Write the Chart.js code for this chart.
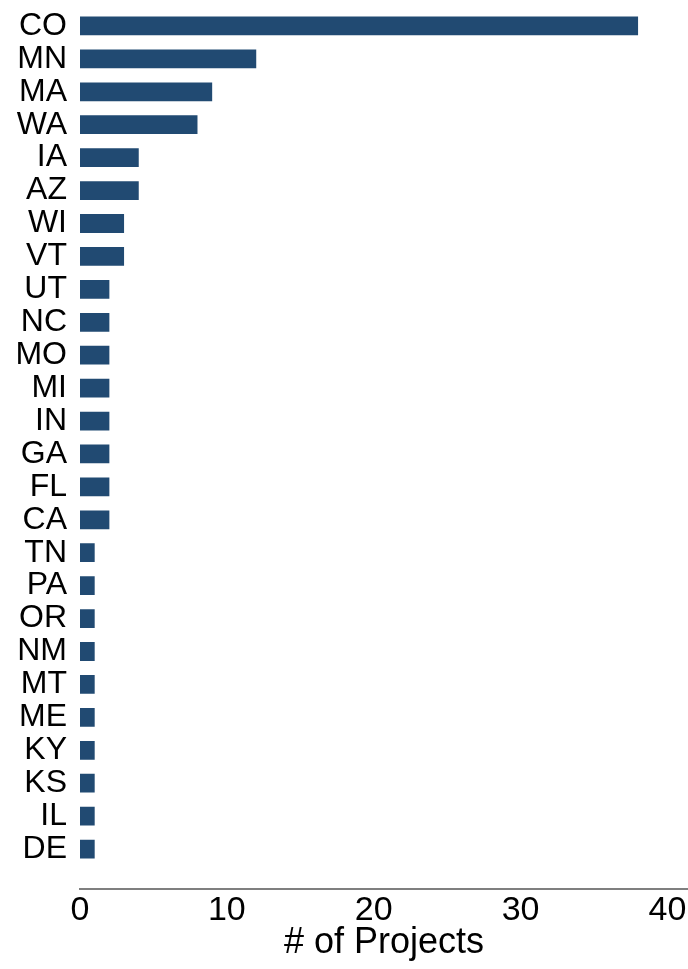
<!DOCTYPE html>
<html lang="en">
<head>
    <meta charset="UTF-8">
    <title># of Projects by State</title>
    <script src="https://cdn.jsdelivr.net/npm/chart.js@4.4.1/dist/chart.umd.min.js"></script>
    <style>
        body {
            margin: 0;
            background: #ffffff;
        }
        .chart-box {
            width: 688px;
            height: 969px;
            position: relative;
        }
    </style>
</head>
<body>
    <div class="chart-box">
        <canvas id="projectsChart"></canvas>
    </div>

    <script>
        // states, top to bottom
        const states = ['CO', 'MN', 'MA', 'WA', 'IA', 'AZ', 'WI', 'VT', 'UT', 'NC', 'MO', 'MI', 'IN',
                        'GA', 'FL', 'CA', 'TN', 'PA', 'OR', 'NM', 'MT', 'ME', 'KY', 'KS', 'IL', 'DE'];
        const projectCounts = [38, 12, 9, 8, 4, 4, 3, 3, 2, 2, 2, 2, 2,
                               2, 2, 2, 1, 1, 1, 1, 1, 1, 1, 1, 1, 1];
        const xTicks = [0, 10, 20, 30, 40];

        const fontFamily = '"Liberation Sans", Arial, Helvetica, sans-serif';

        // bottom axis line sits a bit below the last bar
        const axisLine = {
            id: 'axisLine',
            afterDraw(chart) {
                const ctx = chart.ctx;
                const area = chart.chartArea;
                ctx.save();
                ctx.strokeStyle = '#555555';
                ctx.lineWidth = 1.6;
                ctx.beginPath();
                ctx.moveTo(area.left - 1, area.bottom + 23.5);
                ctx.lineTo(chart.width, area.bottom + 23.5);
                ctx.stroke();
                ctx.restore();
            }
        };

        const ctx = document.getElementById('projectsChart').getContext('2d');
        new Chart(ctx, {
            type: 'bar',
            data: {
                labels: states,
                datasets: [{
                    label: '# of Projects',
                    data: projectCounts,
                    backgroundColor: '#214a72',
                    borderWidth: 0,
                    barPercentage: 0.57,
                    categoryPercentage: 1.0
                }]
            },
            options: {
                indexAxis: 'y',
                responsive: true,
                maintainAspectRatio: false,
                animation: false,
                layout: {
                    padding: { top: 9.5, right: 0, bottom: 0, left: 0 }
                },
                plugins: {
                    legend: { display: false },
                    tooltip: { enabled: false }
                },
                scales: {
                    x: {
                        type: 'linear',
                        min: 0,
                        max: 41.4,
                        afterBuildTicks(scale) {
                            scale.ticks = xTicks.map(v => ({ value: v }));
                        },
                        afterFit(scale) {
                            scale.height = 103.5;
                            scale.paddingLeft = 0;
                            scale.paddingRight = 0;
                        },
                        grid: { display: false, drawTicks: false },
                        border: { display: false },
                        ticks: {
                            color: '#000000',
                            padding: 25,
                            font: { family: fontFamily, size: 34 }
                        },
                        title: {
                            display: true,
                            text: '# of Projects',
                            color: '#000000',
                            padding: { top: 0, bottom: 4 },
                            font: { family: fontFamily, size: 36 }
                        }
                    },
                    y: {
                        offset: true,
                        afterFit(scale) {
                            scale.width = 80;
                            scale.paddingTop = 0;
                            scale.paddingBottom = 0;
                        },
                        grid: { display: false, drawTicks: false },
                        border: { display: false },
                        ticks: {
                            color: '#000000',
                            padding: 13,
                            autoSkip: false,
                            font: { family: fontFamily, size: 32 }
                        }
                    }
                }
            },
            plugins: [axisLine]
        });
    </script>
</body>
</html>
